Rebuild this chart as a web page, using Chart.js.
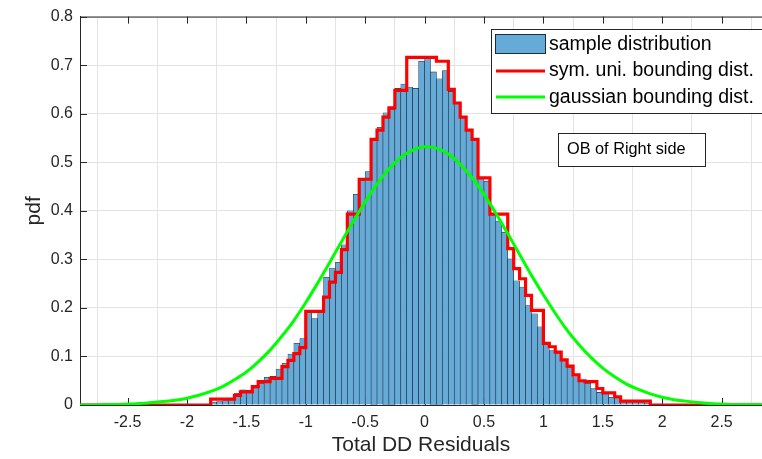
<!DOCTYPE html>
<html lang="en">
<head>
  <meta charset="UTF-8">
  <title>Total DD Residuals - pdf</title>
  <script src="https://cdn.jsdelivr.net/npm/chart.js"></script>
  <style>
    html, body { margin: 0; padding: 0; background: #fff; }
    #wrap { position: relative; width: 762px; height: 459px; }
  </style>
</head>
<body>
  <div id="wrap"><canvas id="pdfChart"></canvas></div>

  <script>
    // histogram bins: left edge of the first bin and bin width
    const binStart = -1.8;
    const binWidth = 0.05;

    // sample distribution, one value per bin
    const sampleValues = [
      0.006, 0.007, 0.009, 0.014, 0.024, 0.031, 0.030, 0.034, 0.045, 0.057,
      0.059, 0.074, 0.086, 0.105, 0.127, 0.137, 0.193, 0.178, 0.195, 0.263,
      0.282, 0.294, 0.330, 0.400, 0.434, 0.463, 0.481, 0.547, 0.572, 0.602,
      0.609, 0.652, 0.661, 0.655, 0.652, 0.708, 0.714, 0.686, 0.672, 0.689,
      0.646, 0.622, 0.593, 0.566, 0.547, 0.468, 0.461, 0.392, 0.379, 0.356,
      0.301, 0.256, 0.243, 0.205, 0.188, 0.161, 0.128, 0.112, 0.107, 0.091,
      0.078, 0.058, 0.050, 0.045, 0.034, 0.026, 0.023, 0.016, 0.013, 0.007,
      0.007, 0.007, 0.006, 0.004
    ];

    // sym. uni. bounding dist., step level per bin (0 outside)
    const boundValues = [
      0.012, 0.012, 0.012, 0.012, 0.020, 0.027, 0.027, 0.038, 0.048, 0.048,
      0.055, 0.055, 0.079, 0.092, 0.106, 0.118, 0.193, 0.193, 0.193, 0.222,
      0.253, 0.273, 0.320, 0.393, 0.393, 0.465, 0.465, 0.547, 0.566, 0.593,
      0.612, 0.648, 0.648, 0.716, 0.716, 0.716, 0.716, 0.716, 0.708, 0.708,
      0.650, 0.622, 0.593, 0.566, 0.547, 0.468, 0.468, 0.393, 0.393, 0.393,
      0.322, 0.281, 0.260, 0.226, 0.195, 0.195, 0.127, 0.120, 0.109, 0.093,
      0.080, 0.062, 0.050, 0.048, 0.048, 0.034, 0.025, 0.025, 0.017, 0.008,
      0.008, 0.008, 0.008, 0.008
    ];

    // gaussian bounding dist.
    const gaussX = [
      -2.9, -2.8, -2.7, -2.6, -2.5, -2.4, -2.3, -2.2, -2.1, -2.0,
      -1.9, -1.8, -1.7, -1.6, -1.5, -1.4, -1.3, -1.2, -1.1, -1.0,
      -0.9, -0.8, -0.7, -0.6, -0.5, -0.4, -0.3, -0.2, -0.1, 0.0,
      0.1, 0.2, 0.3, 0.4, 0.5, 0.6, 0.7, 0.8, 0.9, 1.0,
      1.1, 1.2, 1.3, 1.4, 1.5, 1.6, 1.7, 1.8, 1.9, 2.0,
      2.1, 2.2, 2.3, 2.4, 2.5, 2.6, 2.7, 2.8, 2.9
    ];
    const gaussY = [
      0.000, 0.000, 0.001, 0.001, 0.002, 0.003, 0.005, 0.007, 0.010, 0.014,
      0.020, 0.028, 0.038, 0.052, 0.068, 0.089, 0.113, 0.142, 0.174, 0.211,
      0.251, 0.293, 0.336, 0.378, 0.418, 0.455, 0.486, 0.510, 0.525, 0.532,
      0.529, 0.517, 0.496, 0.468, 0.434, 0.395, 0.353, 0.310, 0.267, 0.227,
      0.189, 0.154, 0.124, 0.098, 0.076, 0.058, 0.043, 0.032, 0.023, 0.016,
      0.011, 0.008, 0.005, 0.003, 0.002, 0.001, 0.001, 0.001, 0.000
    ];

    const xTicks = [-2.5, -2, -1.5, -1, -0.5, 0, 0.5, 1, 1.5, 2, 2.5];
    const yTicks = [0, 0.1, 0.2, 0.3, 0.4, 0.5, 0.6, 0.7, 0.8];

    const FONT = '"Liberation Sans", Arial, Helvetica, sans-serif';
    const AXIS_COLOR = '#262626';
    const BAR_FILL = '#66aad8';
    const BAR_EDGE = 'rgba(10, 25, 40, 0.9)';

    // build datasets
    const sampleData = sampleValues.map((v, i) => ({ x: binStart + (i + 0.5) * binWidth, y: v }));

    const boundData = [{ x: -2.9, y: 0 }];
    boundValues.forEach((v, i) => boundData.push({ x: binStart + i * binWidth, y: v }));
    boundData.push({ x: binStart + boundValues.length * binWidth, y: 0 });
    boundData.push({ x: 2.9, y: 0 });

    const gaussData = gaussX.map((x, i) => ({ x: x, y: gaussY[i] }));

    // legend box, text box and MATLAB-style inner ticks
    const matlabBits = {
      id: 'matlabBits',
      beforeDatasetsDraw(chart) {
        const { ctx, chartArea: a, scales: { x, y } } = chart;
        ctx.save();
        ctx.strokeStyle = AXIS_COLOR;
        ctx.lineWidth = 1;
        ctx.beginPath();
        ctx.moveTo(a.left, a.top + 0.5);
        ctx.lineTo(a.right, a.top + 0.5);
        yTicks.forEach(v => {
          const py = Math.round(y.getPixelForValue(v)) + 0.5;
          ctx.moveTo(a.left, py);
          ctx.lineTo(a.left + 7, py);
        });
        xTicks.forEach(v => {
          const px = Math.round(x.getPixelForValue(v)) + 0.5;
          ctx.moveTo(px, a.bottom);
          ctx.lineTo(px, a.bottom - 7);
          ctx.moveTo(px, a.top);
          ctx.lineTo(px, a.top + 7);
        });
        ctx.stroke();
        ctx.restore();
      },
      afterDraw(chart) {
        const ctx = chart.ctx;
        ctx.save();

        // legend
        ctx.fillStyle = '#fff';
        ctx.fillRect(491, 29, 290, 84);
        ctx.strokeStyle = AXIS_COLOR;
        ctx.lineWidth = 1;
        ctx.strokeRect(491.5, 29.5, 290, 84);

        ctx.fillStyle = BAR_FILL;
        ctx.fillRect(495.5, 34.5, 50, 19);
        ctx.strokeStyle = BAR_EDGE;
        ctx.strokeRect(495.5, 34.5, 50, 19);

        ctx.lineWidth = 3;
        ctx.strokeStyle = '#ff0000';
        ctx.beginPath(); ctx.moveTo(496, 71); ctx.lineTo(545, 71); ctx.stroke();
        ctx.strokeStyle = '#00ff00';
        ctx.beginPath(); ctx.moveTo(496, 97); ctx.lineTo(545, 97); ctx.stroke();

        ctx.fillStyle = '#000';
        ctx.font = '19.5px ' + FONT;
        ctx.textBaseline = 'middle';
        ctx.textAlign = 'left';
        ctx.fillText('sample distribution', 549, 45);
        ctx.fillText('sym. uni. bounding dist.', 549, 71);
        ctx.fillText('gaussian bounding dist.', 549, 98);

        // text box
        ctx.fillStyle = '#fff';
        ctx.fillRect(558, 133, 147, 33);
        ctx.lineWidth = 1;
        ctx.strokeStyle = AXIS_COLOR;
        ctx.strokeRect(558.5, 133.5, 147, 33);
        ctx.fillStyle = '#000';
        ctx.font = '16.3px ' + FONT;
        ctx.fillText('OB of Right side', 567, 150);

        ctx.restore();
      }
    };

    Chart.defaults.font.family = FONT;

    const chart = new Chart(document.getElementById('pdfChart'), {
      type: 'bar',
      data: {
        datasets: [
          {
            type: 'bar',
            label: 'sample distribution',
            data: sampleData,
            backgroundColor: BAR_FILL,
            borderColor: BAR_EDGE,
            borderWidth: 0.6,
            barPercentage: 1,
            categoryPercentage: 1,
            order: 3
          },
          {
            type: 'line',
            label: 'sym. uni. bounding dist.',
            data: boundData,
            borderColor: '#ff0000',
            borderWidth: 3.2,
            pointRadius: 0,
            stepped: 'before',
            fill: false,
            order: 2
          },
          {
            type: 'line',
            label: 'gaussian bounding dist.',
            data: gaussData,
            borderColor: '#00ff00',
            borderWidth: 3,
            pointRadius: 0,
            cubicInterpolationMode: 'monotone',
            fill: false,
            order: 1
          }
        ]
      },
      options: {
        responsive: true,
        maintainAspectRatio: false,
        animation: false,
        events: [],
        layout: { padding: { top: 15, right: 0, bottom: 0, left: 0 } },
        plugins: {
          legend: { display: false },
          tooltip: { enabled: false }
        },
        scales: {
          x: {
            type: 'linear',
            min: -2.9,
            max: 2.84,
            offset: false,
            afterBuildTicks: s => { s.ticks = xTicks.map(v => ({ value: v })); },
            afterFit: s => { s.height = 54; },
            grid: { color: '#e3e3e3', drawTicks: false },
            border: { color: AXIS_COLOR },
            ticks: {
              padding: 8,
              color: AXIS_COLOR,
              font: { size: 16 },
              maxRotation: 0,
              autoSkip: false,
              callback: v => String(v)
            },
            title: {
              display: true,
              text: 'Total DD Residuals',
              color: AXIS_COLOR,
              font: { size: 21 },
              padding: { top: 0, bottom: 1 }
            }
          },
          y: {
            min: 0,
            max: 0.8,
            afterBuildTicks: s => { s.ticks = yTicks.map(v => ({ value: v })); },
            afterFit: s => { s.width = 80; },
            grid: { color: '#e3e3e3', drawTicks: false },
            border: { color: AXIS_COLOR },
            ticks: {
              padding: 7,
              color: AXIS_COLOR,
              font: { size: 16 },
              callback: v => String(v)
            },
            title: {
              display: true,
              text: 'pdf',
              color: AXIS_COLOR,
              font: { size: 21 },
              padding: { top: 22, bottom: 0 }
            }
          }
        }
      },
      plugins: [matlabBits]
    });
  </script>
</body>
</html>
